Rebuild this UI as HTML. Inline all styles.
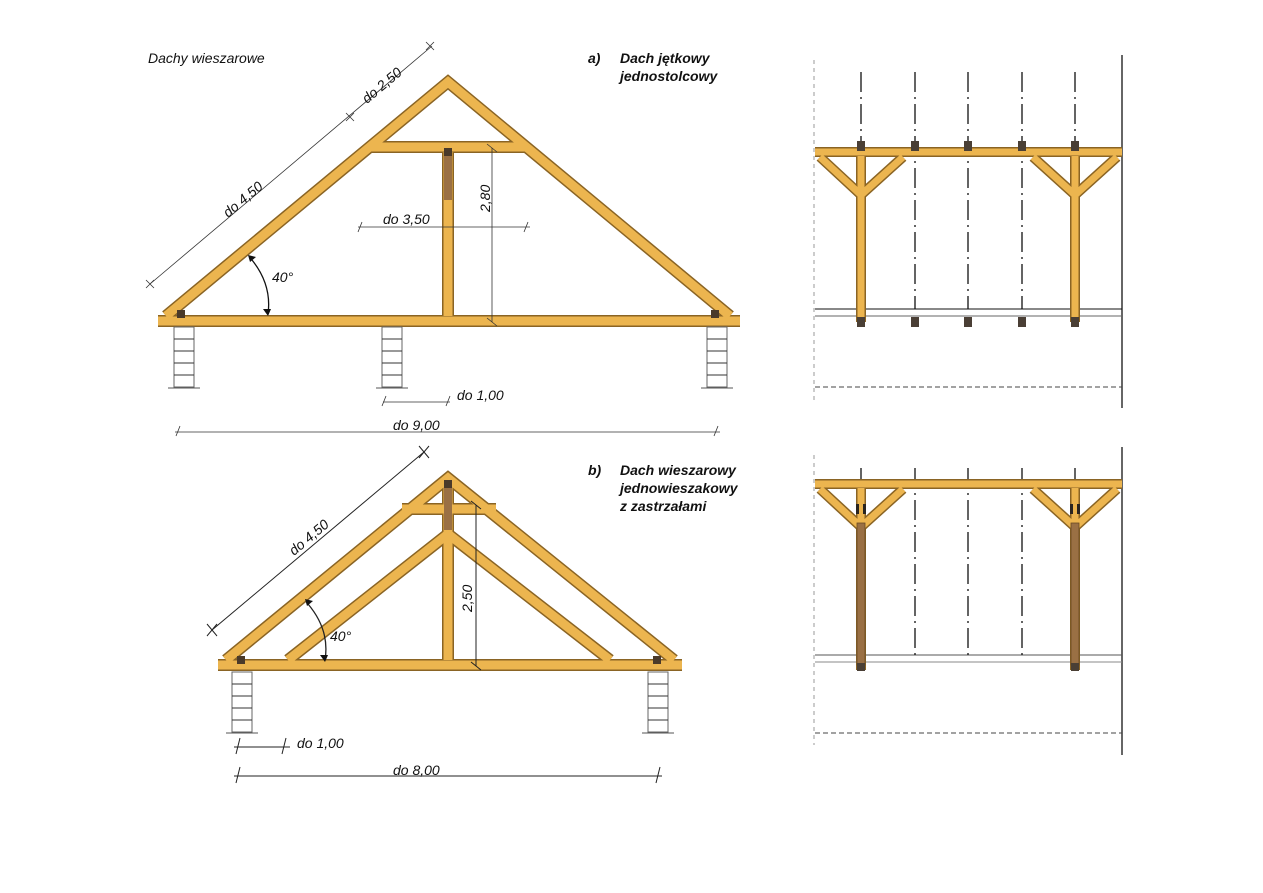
<!DOCTYPE html>
<html><head><meta charset="utf-8"><style>
html,body{margin:0;padding:0;background:#fff;}
svg{display:block;}
text{font-family:"Liberation Sans","DejaVu Sans",sans-serif;font-style:italic;fill:#111;}
.b{font-weight:bold;}
</style></head><body>
<svg width="1263" height="893" viewBox="0 0 1263 893" xmlns="http://www.w3.org/2000/svg">
<defs>
<g id="ta">
 <polyline points="166,316 448,82 730,316"/>
 <line x1="368" y1="147" x2="528" y2="147"/>
 <line x1="448" y1="152" x2="448" y2="316"/>
 <line x1="158" y1="321" x2="740" y2="321"/>
</g>
<g id="tb">
 <polyline points="226,660 448,478 674,660"/>
 <line x1="402" y1="509" x2="496" y2="509"/>
 <polyline points="288,660 448,534 610,660"/>
 <line x1="448" y1="482" x2="448" y2="660"/>
 <line x1="218" y1="665" x2="682" y2="665"/>
</g>
<g id="ra">
 <line x1="815" y1="152" x2="1122" y2="152"/>
 <line x1="861" y1="156" x2="861" y2="322"/>
 <line x1="1075" y1="156" x2="1075" y2="322"/>
 <polyline points="820,157 861,195 903,157"/>
 <polyline points="1033,157 1075,195 1117,157"/>
</g>
<g id="rb">
 <line x1="815" y1="484" x2="1122" y2="484"/>
 <line x1="861" y1="488" x2="861" y2="670"/>
 <line x1="1075" y1="488" x2="1075" y2="670"/>
 <polyline points="820,489 861,527 903,489"/>
 <polyline points="1033,489 1075,527 1117,489"/>
</g>
<g id="pier">
 <rect x="0" y="0" width="20" height="60" fill="#fff" stroke="#666" stroke-width="1"/>
 <line x1="0" y1="12" x2="20" y2="12" stroke="#333"/>
 <line x1="0" y1="24" x2="20" y2="24" stroke="#333"/>
 <line x1="0" y1="36" x2="20" y2="36" stroke="#333"/>
 <line x1="0" y1="48" x2="20" y2="48" stroke="#333"/>
 <line x1="-6" y1="61" x2="26" y2="61" stroke="#555"/>
</g>
</defs>

<text x="148" y="63" font-size="14">Dachy wieszarowe</text>
<text x="588" y="63" font-size="14" class="b">a)</text>
<text x="620" y="63" font-size="14" class="b">Dach jętkowy</text>
<text x="620" y="81" font-size="14" class="b">jednostolcowy</text>
<text x="588" y="475" font-size="14" class="b">b)</text>
<text x="620" y="475" font-size="14" class="b">Dach wieszarowy</text>
<text x="620" y="493" font-size="14" class="b">jednowieszakowy</text>
<text x="620" y="511" font-size="14" class="b">z zastrzałami</text>

<g stroke-linecap="butt" stroke-linejoin="miter" fill="none">
 <use href="#ta" stroke="#8a6424" stroke-width="12"/>
 <use href="#ta" stroke="#ecb54f" stroke-width="9"/>
</g>
<rect x="444" y="150" width="8" height="50" fill="#9a7044"/>
<rect x="444" y="148" width="8" height="8" fill="#4a3a2a"/>
<rect x="177" y="310" width="8" height="8" fill="#4a3a2a"/>
<rect x="711" y="310" width="8" height="8" fill="#4a3a2a"/>
<use href="#pier" x="174" y="327"/>
<use href="#pier" x="382" y="327"/>
<use href="#pier" x="707" y="327"/>

<g stroke="#333" stroke-width="0.8" fill="none">
 <line x1="150" y1="284" x2="432" y2="46"/>
 <path d="M146 280 l8 8 M146 288 l8 -8 M346 113 l8 8 M346 121 l8 -8 M426 42 l8 8 M426 50 l8 -8"/>
 <line x1="492" y1="148" x2="492" y2="322"/>
 <path d="M487 144 l10 8 M487 318 l10 8"/>
 <line x1="358" y1="227" x2="530" y2="227"/>
 <path d="M362 222 l-4 10 M528 222 l-4 10"/>
 <line x1="383" y1="402" x2="450" y2="402"/>
 <path d="M386 396 l-4 10 M450 396 l-4 10"/>
 <line x1="175" y1="432" x2="720" y2="432"/>
 <path d="M180 426 l-4 10 M718 426 l-4 10"/>
 <path d="M252 260 Q272 285 268 314" stroke="#111" stroke-width="1.3"/>
</g>
<path d="M248 255 l8 2 l-6 5z M268 316 l-5 -7 l8 0z" fill="#111"/>
<text x="272" y="282" font-size="14">40°</text>
<text x="228" y="218" font-size="14" transform="rotate(-40 228 218)">do 4,50</text>
<text x="367" y="104" font-size="14" transform="rotate(-40 367 104)">do 2,50</text>
<text x="490" y="212" font-size="14" transform="rotate(-90 490 212)">2,80</text>
<text x="383" y="224" font-size="14">do 3,50</text>
<text x="457" y="400" font-size="14">do 1,00</text>
<text x="393" y="430" font-size="14">do 9,00</text>

<g stroke-linecap="butt" stroke-linejoin="miter" fill="none">
 <use href="#tb" stroke="#8a6424" stroke-width="12"/>
 <use href="#tb" stroke="#ecb54f" stroke-width="9"/>
</g>
<rect x="444" y="482" width="8" height="48" fill="#9a7044"/>
<rect x="444" y="480" width="8" height="8" fill="#4a3a2a"/>
<rect x="237" y="656" width="8" height="8" fill="#4a3a2a"/>
<rect x="653" y="656" width="8" height="8" fill="#4a3a2a"/>
<use href="#pier" x="232" y="672"/>
<use href="#pier" x="648" y="672"/>

<g stroke="#222" stroke-width="1" fill="none">
 <line x1="212" y1="630" x2="424" y2="452"/>
 <path d="M207 624 l10 12 M207 636 l10 -12 M419 446 l10 12 M419 458 l10 -12"/>
 <line x1="476" y1="505" x2="476" y2="666"/>
 <path d="M471 501 l10 8 M471 662 l10 8"/>
 <line x1="234" y1="747" x2="290" y2="747"/>
 <path d="M240 738 l-4 16 M286 738 l-4 16"/>
 <line x1="234" y1="776" x2="662" y2="776"/>
 <path d="M240 767 l-4 16 M660 767 l-4 16"/>
 <path d="M308 604 Q330 630 325 660" stroke-width="1.3"/>
</g>
<path d="M305 599 l8 2 l-6 5z M325 662 l-5 -7 l8 0z" fill="#111"/>
<text x="330" y="641" font-size="14">40°</text>
<text x="294" y="556" font-size="14" transform="rotate(-40 294 556)">do 4,50</text>
<text x="472" y="612" font-size="14" transform="rotate(-90 472 612)">2,50</text>
<text x="297" y="748" font-size="14">do 1,00</text>
<text x="393" y="775" font-size="14">do 8,00</text>

<g fill="none" stroke="#111">
 <line x1="814" y1="60" x2="814" y2="400" stroke="#999" stroke-dasharray="4 4"/>
 <line x1="1122" y1="55" x2="1122" y2="408" stroke="#333" stroke-width="1.5"/>
 <line x1="815" y1="309" x2="1122" y2="309"/>
 <line x1="815" y1="316" x2="1122" y2="316" stroke="#666"/>
 <line x1="815" y1="387" x2="1122" y2="387" stroke="#444" stroke-dasharray="5 3"/>
 <g stroke-dasharray="20 5 2 5" stroke-width="1.3">
  <line x1="861" y1="72" x2="861" y2="145"/>
  <line x1="915" y1="72" x2="915" y2="309"/>
  <line x1="968" y1="72" x2="968" y2="309"/>
  <line x1="1022" y1="72" x2="1022" y2="309"/>
  <line x1="1075" y1="72" x2="1075" y2="145"/>
 </g>
</g>
<g stroke-linecap="butt" stroke-linejoin="miter" fill="none">
 <use href="#ra" stroke="#8a6424" stroke-width="10"/>
 <use href="#ra" stroke="#ecb54f" stroke-width="7"/>
</g>
<g fill="#4a3f35">
 <rect x="857" y="141" width="8" height="10"/><rect x="911" y="141" width="8" height="10"/><rect x="964" y="141" width="8" height="10"/><rect x="1018" y="141" width="8" height="10"/><rect x="1071" y="141" width="8" height="10"/>
 <rect x="857" y="317" width="8" height="10"/><rect x="911" y="317" width="8" height="10"/><rect x="964" y="317" width="8" height="10"/><rect x="1018" y="317" width="8" height="10"/><rect x="1071" y="317" width="8" height="10"/>
</g>

<g fill="none" stroke="#111">
 <line x1="814" y1="455" x2="814" y2="745" stroke="#999" stroke-dasharray="4 4"/>
 <line x1="1122" y1="447" x2="1122" y2="755" stroke="#333" stroke-width="1.5"/>
 <line x1="815" y1="655" x2="1122" y2="655" stroke="#555"/>
 <line x1="815" y1="662" x2="1122" y2="662" stroke="#888"/>
 <line x1="815" y1="733" x2="1122" y2="733" stroke="#444" stroke-dasharray="5 3"/>
 <g stroke-dasharray="20 5 2 5" stroke-width="1.3">
  <line x1="861" y1="468" x2="861" y2="480"/>
  <line x1="915" y1="468" x2="915" y2="655"/>
  <line x1="968" y1="468" x2="968" y2="655"/>
  <line x1="1022" y1="468" x2="1022" y2="655"/>
  <line x1="1075" y1="468" x2="1075" y2="480"/>
 </g>
</g>
<g stroke-linecap="butt" stroke-linejoin="miter" fill="none">
 <use href="#rb" stroke="#8a6424" stroke-width="10"/>
 <use href="#rb" stroke="#ecb54f" stroke-width="7"/>
</g>
<rect x="857" y="523" width="8" height="142" fill="#9a7044" stroke="#6a4a24" stroke-width="0.8"/>
<rect x="1071" y="523" width="8" height="142" fill="#9a7044" stroke="#6a4a24" stroke-width="0.8"/>
<g fill="#2a2520">
 <rect x="856" y="504" width="3" height="10"/><rect x="863" y="504" width="3" height="10"/>
 <rect x="1070" y="504" width="3" height="10"/><rect x="1077" y="504" width="3" height="10"/>
 <rect x="857" y="663" width="8" height="8" fill="#4a3f35"/><rect x="1071" y="663" width="8" height="8" fill="#4a3f35"/>
</g>
</svg>
</body></html>
